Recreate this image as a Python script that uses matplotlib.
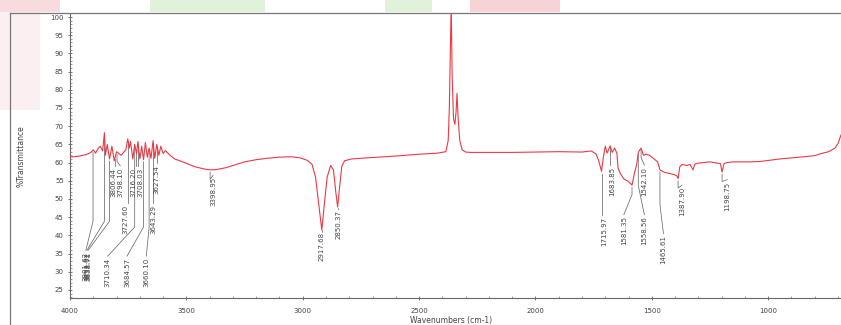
import numpy as np
import matplotlib
matplotlib.use("Agg")
import matplotlib.pyplot as plt
from matplotlib.patches import Rectangle
from matplotlib.lines import Line2D

# ---------------- data ----------------
wavenumber = [4000, 3960, 3930, 3910, 3900, 3890, 3880, 3870, 3860, 3852, 3848, 3840,
              3830, 3820, 3810, 3800, 3790, 3780, 3770, 3760, 3752, 3745, 3740, 3730,
              3722, 3714, 3708, 3700, 3692, 3684, 3676, 3668, 3660, 3652, 3643, 3636,
              3627, 3618, 3610, 3600, 3590, 3570, 3550, 3520, 3500, 3460, 3420, 3398,
              3370, 3330, 3290, 3250, 3200, 3150, 3100, 3050, 3010, 2980, 2960, 2945,
              2930, 2918, 2908, 2895, 2880, 2868, 2858, 2850, 2842, 2832, 2820, 2790,
              2700, 2600, 2500, 2420, 2385, 2375, 2370, 2366, 2362, 2358, 2352, 2346,
              2341, 2337, 2332, 2325, 2315, 2300, 2280, 2200, 2100, 2000, 1900, 1800,
              1760, 1740, 1728, 1716, 1708, 1700, 1692, 1686, 1679, 1670, 1660, 1650,
              1645, 1635, 1620, 1600, 1585, 1575, 1565, 1558, 1546, 1536, 1525, 1510,
              1490, 1475, 1465, 1445, 1422, 1400, 1392, 1387, 1380, 1370, 1350, 1336,
              1323, 1315, 1305, 1280, 1250, 1215, 1205, 1198, 1190, 1177, 1150, 1121,
              1080, 1035, 950, 863, 800, 777, 740, 713, 700, 687]
transmittance = [61.5, 61.8, 62.2, 62.8, 63.5, 62.6, 63.8, 64.5, 63.2, 68.2, 62.0, 65.0,
                 61.0, 64.5, 60.5, 63.0, 62.5, 62.0, 62.8, 63.5, 66.5, 64.0, 65.8, 61.0,
                 65.0, 62.5, 65.8, 61.0, 64.5, 60.8, 65.5, 61.5, 64.0, 61.2, 66.0, 61.2,
                 65.0, 62.0, 64.5, 62.5, 63.3, 62.0, 61.0, 60.3, 59.8, 58.8, 58.2, 58.0,
                 58.1, 58.6, 59.4, 60.2, 60.8, 61.2, 61.5, 61.6, 61.3, 60.6, 59.5, 56.0,
                 48.0, 41.5, 48.0, 56.0, 59.2, 58.0, 52.0, 47.8, 53.0, 59.0, 60.5, 61.0,
                 61.4, 61.8, 62.3, 62.6, 63.0, 66.0, 75.0, 90.0, 104.0, 84.0, 72.0, 70.5,
                 74.0, 79.0, 72.0, 66.0, 63.5, 62.9, 62.8, 62.8, 62.8, 62.9, 63.0, 62.9,
                 63.2, 62.4, 60.5, 57.6, 61.5, 64.5, 62.6, 63.5, 64.6, 62.8, 64.0, 62.6,
                 58.5, 57.0, 55.5, 54.8, 53.8, 57.0, 59.5, 62.8, 64.0, 62.0, 62.3, 62.0,
                 61.0, 60.2, 58.0, 57.3, 57.0, 56.6, 56.3, 55.6, 58.8, 59.5, 59.2, 59.5,
                 58.0, 59.6, 59.8, 60.0, 60.2, 59.8, 59.7, 57.4, 59.7, 60.0, 60.2, 60.2,
                 60.2, 60.3, 61.0, 61.5, 61.9, 62.4, 63.0, 64.0, 65.2, 67.6]

peak_labels = ["3901.62", "3853.02", "3838.71", "3806.44", "3798.10", "3710.34",
               "3727.60", "3684.57", "3716.20", "3708.03", "3643.29", "3660.10",
               "3627.54", "3398.95", "2917.68", "2850.37", "1715.97", "1683.85",
               "1581.35", "1542.10", "1558.56", "1465.61", "1387.90", "1198.75"]
peak_wn = [3901, 3852, 3830, 3806, 3798, 3722, 3752, 3684, 3716, 3708, 3643, 3660,
           3627, 3398, 2918, 2850, 1716, 1679, 1585, 1546, 1558, 1465, 1387, 1198]

# layout of the label texts (x in cm-1, top of text in %T)
label_x = [3932, 3927, 3922, 3814, 3784, 3838, 3760, 3755, 3727, 3698, 3640, 3672,
           3627, 3385, 2918, 2845, 1706, 1670, 1620, 1532, 1532, 1450, 1370, 1176]
label_top = [35.4, 35.4, 35.4, 58.6, 58.6, 33.8, 48.4, 33.8, 58.6, 58.6, 48.4, 33.8,
             59.3, 56.0, 41.0, 47.0, 45.2, 58.8, 45.2, 58.8, 45.2, 40.0, 53.3, 54.8]

x_ticks = [4000, 3500, 3000, 2500, 2000, 1500, 1000]
y_ticks = [25, 30, 35, 40, 45, 50, 55, 60, 65, 70, 75, 80, 85, 90, 95, 100]

# ---------------- figure ----------------
W, H = 841, 325
fig = plt.figure(figsize=(W / 100, H / 100), dpi=100)
fig.patch.set_facecolor("white")

def fx(px):
    return px / W
def fy(py):
    return 1 - py / H

# faint watermark background patches
for (x0, y0, x1, y1, c, a) in [(0, 0, 60, 12, "#f3b8c0", 0.5), (150, 0, 265, 12, "#cfe8c0", 0.6),
                               (385, 0, 432, 12, "#cfe8c0", 0.6), (470, 0, 560, 12, "#f0a8b0", 0.5),
                               (0, 12, 40, 110, "#f8dde0", 0.45)]:
    fig.patches.append(Rectangle((fx(x0), fy(y1)), fx(x1) - fx(x0), fy(y0) - fy(y1),
                                 transform=fig.transFigure, color=c, alpha=a, lw=0, zorder=0))

# outer border
fig.add_artist(Line2D([fx(10), fx(10)], [0, fy(13)], transform=fig.transFigure, color="#777777", lw=0.9))
fig.add_artist(Line2D([fx(10), 1], [fy(13), fy(13)], transform=fig.transFigure, color="#777777", lw=0.9))

ax = fig.add_axes([fx(70), fy(298), 1 - fx(70), fy(13) - fy(298)])
ax.set_facecolor("none")
ax.set_xlim(4000, 687)
ax.set_ylim(22.8, 101.1)

ax.plot(wavenumber, transmittance, color="#e83a44", lw=0.8, zorder=3)

# peak labels with leader lines
spec_x = np.array(wavenumber[::-1], dtype=float)
spec_y = np.array(transmittance[::-1], dtype=float)
for txt, pw, lx, lt in zip(peak_labels, peak_wn, label_x, label_top):
    py = np.interp(pw, spec_x, spec_y) - 0.6
    end_y = lt + 0.5
    if abs(lx - pw) < 12:
        xs, ys = [pw, pw], [py, end_y]
    else:
        knee = min(py - 2, end_y + 8)
        xs, ys = [pw, pw, lx], [py, knee, end_y]
    ax.plot(xs, ys, color="#6a6a6a", lw=0.55, zorder=2)
    ax.text(lx, lt, txt, rotation=90, ha="center", va="top", fontsize=5,
            color="#444444", zorder=4)

# axes styling
for s in ["top", "right"]:
    ax.spines[s].set_visible(False)
for s in ["left", "bottom"]:
    ax.spines[s].set_color("#666666")
    ax.spines[s].set_linewidth(0.8)
ax.set_xticks(x_ticks)
ax.set_xticklabels([str(v) for v in x_ticks])
ax.set_yticks(y_ticks)
ax.set_yticklabels([str(v) for v in y_ticks])
ax.set_xticks(np.arange(700, 4001, 100), minor=True)
ax.set_yticks(np.arange(23, 101, 1), minor=True)
ax.tick_params(axis="both", which="major", length=3, width=0.6, colors="#666666",
               labelsize=5, labelcolor="#444444", direction="inout", pad=3)
ax.tick_params(axis="both", which="minor", length=1.5, width=0.5, colors="#777777", direction="in")
ax.tick_params(axis="x", which="major", pad=6)

fig.text(fx(21), fy(156), "%Transmittance", rotation=90, ha="center", va="center",
         fontsize=5.5, color="#444444")
fig.text(fx(451), fy(320), "Wavenumbers (cm-1)", ha="center", va="center",
         fontsize=5.5, color="#444444")

fig.savefig("out.png", dpi=100)
